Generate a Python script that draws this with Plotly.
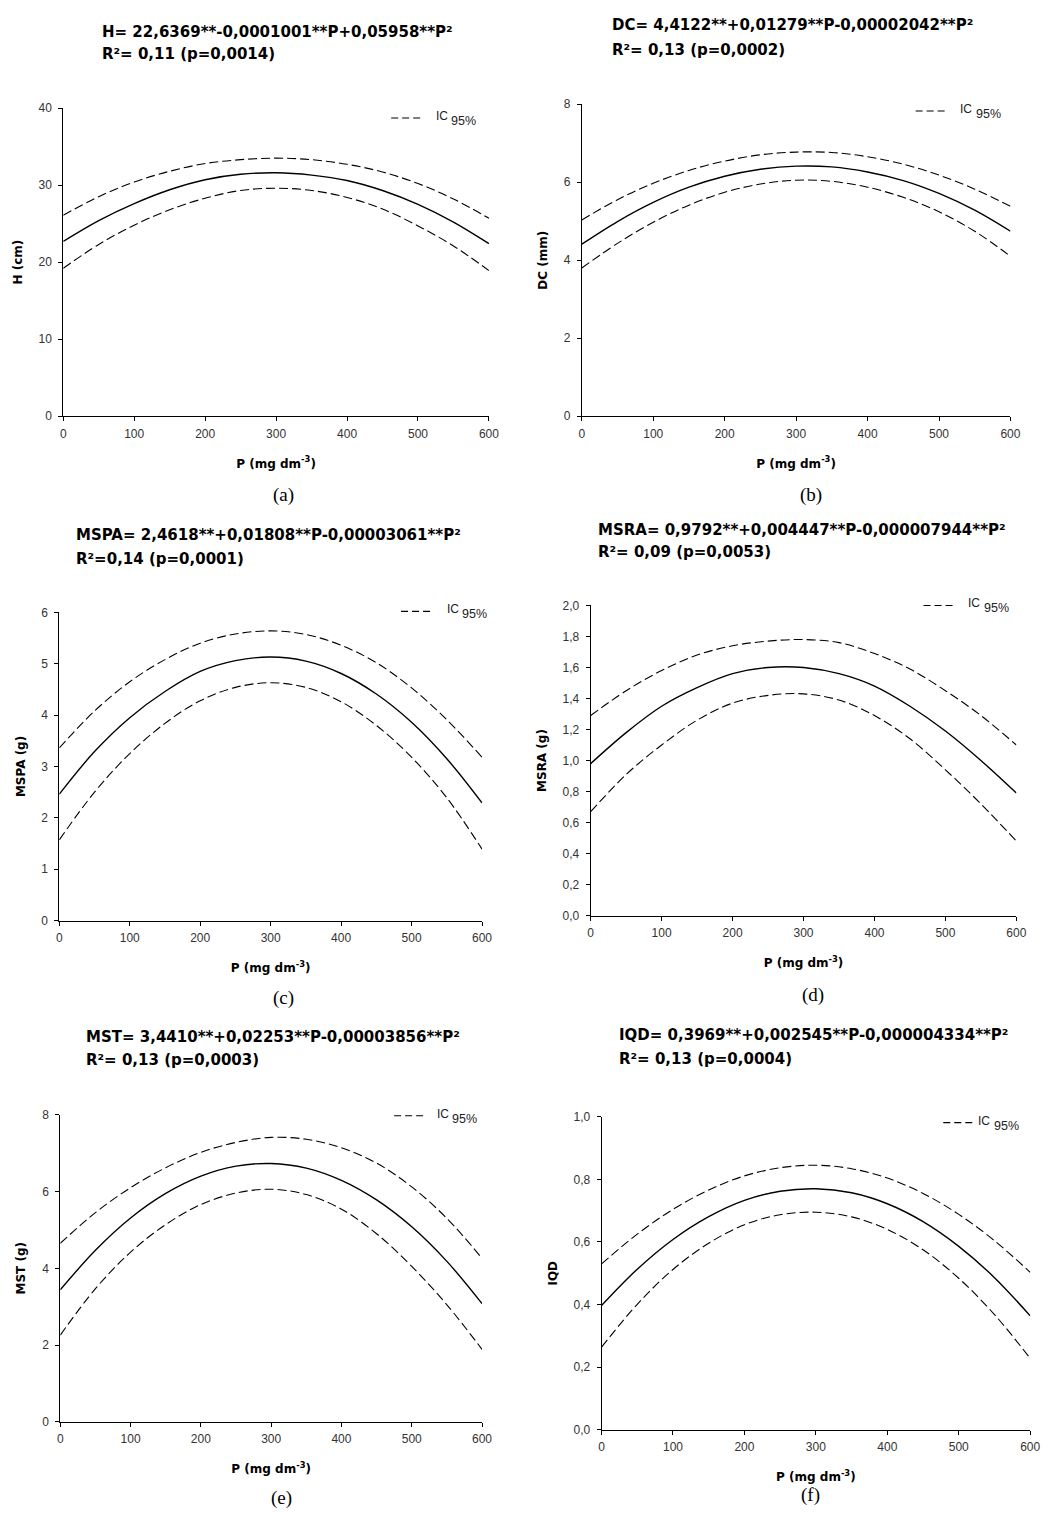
import plotly.graph_objects as go

W, H = 1057, 1524

# ---------------- data ----------------
P = [0, 50, 100, 150, 200, 250, 300, 350, 400, 450, 500, 550, 600]

H_fit = [22.7, 25.4, 27.6, 29.4, 30.7, 31.4, 31.6, 31.3, 30.6, 29.3, 27.5, 25.2, 22.4]
H_up = [26.1, 28.5, 30.4, 31.8, 32.8, 33.3, 33.5, 33.3, 32.7, 31.7, 30.2, 28.2, 25.7]
H_lo = [19.2, 22.3, 24.8, 26.8, 28.3, 29.3, 29.6, 29.3, 28.4, 26.9, 24.7, 22.1, 18.9]

DC_fit = [4.41, 4.99, 5.48, 5.87, 6.15, 6.33, 6.41, 6.39, 6.26, 6.04, 5.71, 5.28, 4.74]
DC_up = [5.03, 5.55, 5.97, 6.30, 6.54, 6.70, 6.77, 6.76, 6.65, 6.46, 6.18, 5.82, 5.38]
DC_lo = [3.80, 4.43, 4.97, 5.41, 5.74, 5.95, 6.05, 6.02, 5.87, 5.61, 5.24, 4.74, 4.10]

MSPA_fit = [2.46, 3.29, 3.95, 4.46, 4.85, 5.06, 5.13, 5.05, 4.81, 4.41, 3.86, 3.15, 2.29]
MSPA_up = [3.36, 4.08, 4.65, 5.08, 5.40, 5.58, 5.64, 5.57, 5.36, 5.02, 4.53, 3.91, 3.18]
MSPA_lo = [1.57, 2.50, 3.25, 3.84, 4.28, 4.54, 4.63, 4.54, 4.26, 3.80, 3.18, 2.39, 1.39]

MSRA_fit = [0.98, 1.18, 1.35, 1.47, 1.56, 1.60, 1.60, 1.56, 1.48, 1.35, 1.19, 1.00, 0.79]
MSRA_up = [1.29, 1.45, 1.58, 1.68, 1.74, 1.77, 1.78, 1.76, 1.69, 1.59, 1.45, 1.29, 1.10]
MSRA_lo = [0.67, 0.91, 1.10, 1.26, 1.37, 1.42, 1.43, 1.39, 1.29, 1.14, 0.94, 0.72, 0.48]

MST_fit = [3.44, 4.47, 5.31, 5.95, 6.40, 6.66, 6.73, 6.61, 6.29, 5.78, 5.08, 4.18, 3.08]
MST_up = [4.65, 5.45, 6.10, 6.62, 7.02, 7.28, 7.41, 7.36, 7.14, 6.74, 6.12, 5.30, 4.26]
MST_lo = [2.26, 3.47, 4.42, 5.14, 5.66, 5.96, 6.06, 5.92, 5.54, 4.90, 4.05, 3.05, 1.89]

IQD_fit = [0.397, 0.513, 0.608, 0.681, 0.733, 0.762, 0.770, 0.757, 0.722, 0.665, 0.586, 0.486, 0.364]
IQD_up = [0.530, 0.625, 0.704, 0.766, 0.811, 0.837, 0.845, 0.834, 0.804, 0.755, 0.688, 0.604, 0.503]
IQD_lo = [0.264, 0.401, 0.512, 0.596, 0.655, 0.687, 0.695, 0.680, 0.640, 0.575, 0.484, 0.368, 0.228]

equations = [
    "H= 22,6369**-0,0001001**P+0,05958**P²",
    "DC= 4,4122**+0,01279**P-0,00002042**P²",
    "MSPA= 2,4618**+0,01808**P-0,00003061**P²",
    "MSRA= 0,9792**+0,004447**P-0,000007944**P²",
    "MST= 3,4410**+0,02253**P-0,00003856**P²",
    "IQD= 0,3969**+0,002545**P-0,000004334**P²",
]
stats = [
    "R²= 0,11 (p=0,0014)",
    "R²= 0,13 (p=0,0002)",
    "R²=0,14 (p=0,0001)",
    "R²= 0,09 (p=0,0053)",
    "R²= 0,13 (p=0,0003)",
    "R²= 0,13 (p=0,0004)",
]
x_title = "P (mg dm<sup>-3</sup>)"
y_titles = ["H (cm)", "DC (mm)", "MSPA (g)", "MSRA (g)", "MST (g)", "IQD"]
captions = ["(a)", "(b)", "(c)", "(d)", "(e)", "(f)"]
y_max = [40, 8, 6, 2, 8, 1]
y_step = [10, 2, 1, 0.2, 2, 0.2]
y_fmt = ["d", "d", "d", ".1f", "d", ".1f"]
x_ticks = [0, 100, 200, 300, 400, 500, 600]

fits = [H_fit, DC_fit, MSPA_fit, MSRA_fit, MST_fit, IQD_fit]
ups = [H_up, DC_up, MSPA_up, MSRA_up, MST_up, IQD_up]
los = [H_lo, DC_lo, MSPA_lo, MSRA_lo, MST_lo, IQD_lo]

# ---------------- layout geometry (pixels) ----------------
panels = [
    dict(px=(61, 492), py=(102, 413), tl=98, t1=25, t2=47, cap=(284, 493),
         leg=(393, 425, 112), ic=436, sub=452),
    dict(px=(586, 1020), py=(98, 413), tl=615, t1=18, t2=43, cap=(818, 493),
         leg=(924, 955, 105), ic=967, sub=983),
    dict(px=(57, 485), py=(611, 922), tl=72, t1=533, t2=557, cap=(284, 1000),
         leg=(403, 435, 610), ic=447, sub=463),
    dict(px=(595, 1026), py=(604, 917), tl=600, t1=528, t2=550, cap=(820, 997),
         leg=(932, 963, 604), ic=975, sub=991),
    dict(px=(58, 485), py=(1118, 1428), tl=82, t1=1040, t2=1063, cap=(282, 1505),
         leg=(396, 427, 1119), ic=437, sub=453),
    dict(px=(606, 1040), py=(1120, 1436), tl=622, t1=1038, t2=1062, cap=(818, 1502),
         leg=(952, 984, 1126), ic=985, sub=1001),
]


def fx(p):
    return p / W


def fy(p):
    return 1 - p / H


TITLE_FONT = dict(family="DejaVu Sans", size=15, color="black")
AX_FONT = dict(family="DejaVu Sans", size=12, color="black", weight="bold")
TICK_FONT = dict(family="Liberation Sans, Arial", size=12, color="#333333")

fig = go.Figure()
annotations = []
shapes = []

for i, g in enumerate(panels):
    xa = "x" if i == 0 else f"x{i+1}"
    ya = "y" if i == 0 else f"y{i+1}"
    for vals, dash, width in ((ups[i], "9px,4px", 1.1), (fits[i], "solid", 1.4), (los[i], "9px,4px", 1.1)):
        fig.add_trace(go.Scatter(
            x=P, y=vals, mode="lines", xaxis=xa, yaxis=ya, showlegend=False,
            line=dict(color="black", width=width, dash=dash, shape="spline", smoothing=1.0),
            hoverinfo="skip"))

    xkey = "xaxis" if i == 0 else f"xaxis{i+1}"
    ykey = "yaxis" if i == 0 else f"yaxis{i+1}"
    fig.layout[xkey] = dict(
        domain=[fx(g["px"][0]), fx(g["px"][1])], anchor=ya, range=[0, 600],
        tickvals=x_ticks, showline=True, linecolor="black", linewidth=1,
        ticks="outside", ticklen=4, tickcolor="black", showgrid=False, zeroline=False,
        tickfont=TICK_FONT, ticklabelstandoff=2, fixedrange=True,
        title=dict(text=x_title, font=AX_FONT, standoff=19))
    fig.layout[ykey] = dict(
        domain=[fy(g["py"][1]), fy(g["py"][0])], anchor=xa, range=[0, y_max[i]],
        dtick=y_step[i], tick0=0, tickformat=y_fmt[i], showline=True, linecolor="black",
        linewidth=1, ticks="outside", ticklen=4, tickcolor="black", showgrid=False,
        zeroline=False, tickfont=TICK_FONT, ticklabelstandoff=4, fixedrange=True,
        title=dict(text=y_titles[i], font=AX_FONT, standoff=13))

    # equation lines
    annotations.append(dict(text=f"<b>{equations[i]}</b>", x=fx(g["tl"]), y=fy(g["t1"]),
                            xref="paper", yref="paper", xanchor="left", yanchor="middle",
                            showarrow=False, font=TITLE_FONT))
    annotations.append(dict(text=f"<b>{stats[i]}</b>", x=fx(g["tl"]), y=fy(g["t2"]),
                            xref="paper", yref="paper", xanchor="left", yanchor="middle",
                            showarrow=False, font=TITLE_FONT))
    # caption
    annotations.append(dict(text=captions[i], x=fx(g["cap"][0]), y=fy(g["cap"][1]),
                            xref="paper", yref="paper", xanchor="center", yanchor="middle",
                            showarrow=False,
                            font=dict(family="Liberation Serif, Times New Roman", size=19, color="black")))
    # legend key
    x0, x1, ly = g["leg"]
    shapes.append(dict(type="line", xref="paper", yref="paper", x0=fx(x0), x1=fx(x1),
                       y0=fy(ly), y1=fy(ly), line=dict(color="black", width=1.1, dash="7px,4px")))
    annotations.append(dict(text="IC", x=fx(g["ic"]), y=fy(ly - 2),
                            xref="paper", yref="paper", xanchor="left", yanchor="middle",
                            showarrow=False,
                            font=dict(family="Liberation Sans, Arial", size=12, color="#222222")))
    annotations.append(dict(text="95%", x=fx(g["sub"]), y=fy(ly + 3),
                            xref="paper", yref="paper", xanchor="left", yanchor="middle",
                            showarrow=False,
                            font=dict(family="Liberation Sans, Arial", size=12.5, color="#222222")))

fig.update_layout(
    width=W, height=H, margin=dict(l=0, r=0, t=0, b=0),
    paper_bgcolor="white", plot_bgcolor="white",
    separators=",.", showlegend=False,
    annotations=annotations, shapes=shapes,
)

fig.write_html(
    "out.html",
    config={"displayModeBar": False},
    post_script="document.body.style.margin='0';document.documentElement.style.overflow='hidden';",
)
